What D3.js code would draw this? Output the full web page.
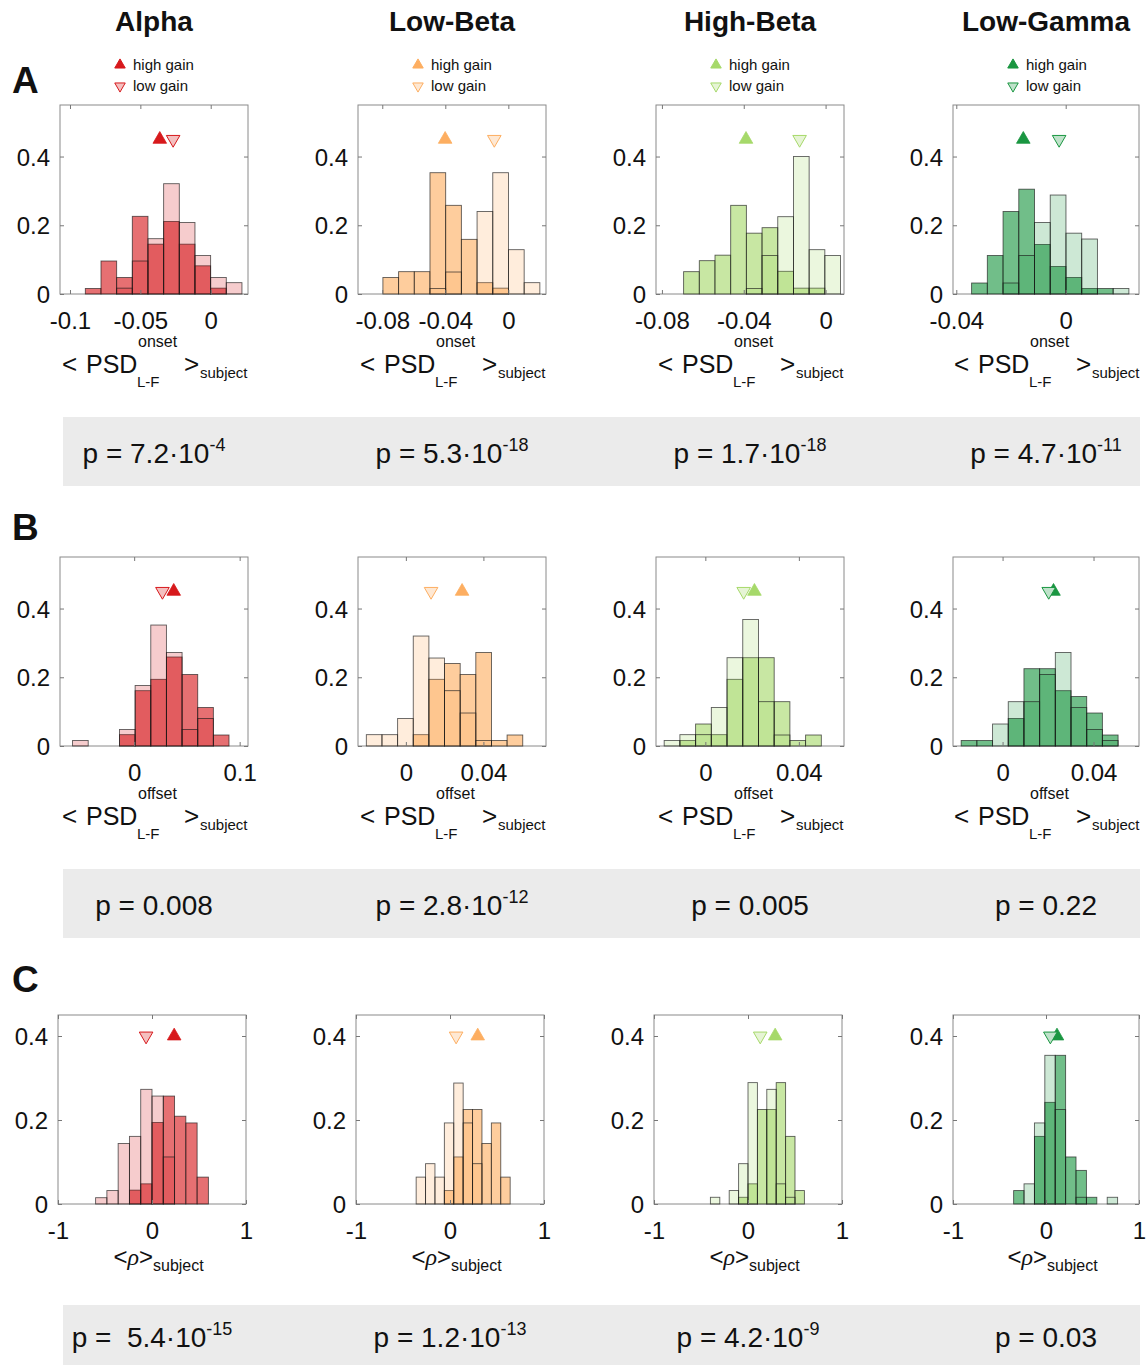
<!DOCTYPE html>
<html>
<head>
<meta charset="utf-8">
<script src="https://cdn.jsdelivr.net/npm/d3@7"></script>
<style>
  body { margin: 0; background: #fff; }
  svg { display: block; }
  text { font-family: "Liberation Sans", Arial, Helvetica, sans-serif; }
</style>
</head>
<body>
<svg id="fig" width="1148" height="1365"></svg>
<script>
// Frequency bands (columns) and their colours
const bands = ["Alpha", "Low-Beta", "High-Beta", "Low-Gamma"];
const bandColors = ["#d7191c", "#fdae61", "#a6d96a", "#1a9641"];
const yTicks = [0, 0.2, 0.4];

// Row A: <PSD_L-F^onset>_subject
const onsetDomain = [[-0.1071, 0.0265], [-0.0954, 0.0239], [-0.0829, 0.009], [-0.0412, 0.0268]];
const onsetTicks = [[-0.1, -0.05, 0], [-0.08, -0.04, 0], [-0.08, -0.04, 0], [-0.04, 0]];
const onsetBinStart = [-0.0891, -0.0796, -0.0694, -0.0344];
const onsetBinWidth = [0.01113, 0.00996, 0.00767, 0.00575];
const onsetHigh = [
  [0.016, 0.096, 0.048, 0.226, 0.145, 0.211, 0.145, 0.082, 0.017, 0],
  [0.048, 0.065, 0.065, 0.353, 0.258, 0.159, 0.033, 0.017, 0, 0],
  [0.065, 0.097, 0.113, 0.258, 0.177, 0.193, 0.066, 0.017, 0.017, 0],
  [0.032, 0.112, 0.240, 0.305, 0.144, 0.080, 0.048, 0.016, 0.016, 0]
];
const onsetLow = [
  [0, 0, 0.017, 0.096, 0.161, 0.321, 0.208, 0.112, 0.048, 0.033],
  [0, 0, 0, 0.016, 0.064, 0, 0.240, 0.353, 0.129, 0.033],
  [0, 0, 0, 0, 0.016, 0.112, 0.225, 0.400, 0.129, 0.112],
  [0, 0, 0.032, 0.112, 0.208, 0.288, 0.177, 0.160, 0, 0.016]
];
const onsetMeanHigh = [-0.0362, -0.0401, -0.0389, -0.0155];
const onsetMeanLow = [-0.0267, -0.0089, -0.0127, -0.0024];
const onsetP = [["7.2·10", "-4"], ["5.3·10", "-18"], ["1.7·10", "-18"], ["4.7·10", "-11"]];

// Row B: <PSD_L-F^offset>_subject
const offsetDomain = [[-0.0703, 0.1079], [-0.0247, 0.0723], [-0.0211, 0.0593], [-0.0218, 0.06]];
const offsetTicks = [[0, 0.1], [0, 0.04], [0, 0.04], [0, 0.04]];
const offsetBinStart = [-0.0584, -0.0204, -0.0176, -0.0182];
const offsetBinWidth = [0.01483, 0.00807, 0.00672, 0.0069];
const offsetHigh = [
  [0, 0, 0, 0.033, 0.161, 0.194, 0.259, 0.208, 0.112, 0.032],
  [0, 0, 0, 0.033, 0.194, 0.240, 0.208, 0.272, 0.016, 0.032],
  [0, 0.016, 0.064, 0.033, 0.194, 0.257, 0.257, 0.129, 0.016, 0.032],
  [0.016, 0.016, 0, 0.080, 0.225, 0.225, 0.161, 0.144, 0.096, 0.032]
];
const offsetLow = [
  [0.016, 0, 0, 0.048, 0.176, 0.352, 0.272, 0.048, 0.080, 0],
  [0.033, 0.033, 0.080, 0.320, 0.256, 0.161, 0.096, 0.016, 0, 0],
  [0.016, 0.033, 0.033, 0.112, 0.257, 0.368, 0.129, 0.032, 0, 0],
  [0, 0, 0.064, 0.129, 0.129, 0.208, 0.272, 0.112, 0.048, 0.016]
];
const offsetMeanHigh = [0.0375, 0.029, 0.021, 0.0224];
const offsetMeanLow = [0.0268, 0.013, 0.0164, 0.0203];
const offsetP = [["0.008", ""], ["2.8·10", "-12"], ["0.005", ""], ["0.22", ""]];

// Row C: <rho>_subject
const rhoDomain = [[-1, 1], [-1, 1], [-1, 1], [-1, 1]];
const rhoTicks = [[-1, 0, 1], [-1, 0, 1], [-1, 0, 1], [-1, 0, 1]];
const rhoBinStart = [-0.6, -0.36, -0.4, -0.348];
const rhoBinWidth = [0.12, 0.1, 0.1, 0.1118];
const rhoHigh = [
  [0, 0, 0, 0.033, 0.048, 0.194, 0.257, 0.209, 0.193, 0.064],
  [0, 0, 0, 0.032, 0.112, 0.225, 0.225, 0.144, 0.193, 0.064],
  [0, 0, 0, 0.016, 0.048, 0.225, 0.225, 0.289, 0.161, 0.032],
  [0.032, 0, 0.161, 0.242, 0.354, 0.112, 0.080, 0.016, 0, 0]
];
const rhoLow = [
  [0.015, 0.032, 0.144, 0.161, 0.273, 0.257, 0.112, 0, 0, 0],
  [0.064, 0.096, 0.064, 0.193, 0.288, 0.193, 0.096, 0, 0, 0],
  [0.016, 0, 0.032, 0.096, 0.289, 0, 0.273, 0.048, 0.016, 0],
  [0, 0.048, 0.193, 0.354, 0.225, 0, 0.016, 0, 0, 0.016]
];
const rhoMeanHigh = [0.236, 0.295, 0.289, 0.118];
const rhoMeanLow = [-0.063, 0.065, 0.130, 0.047];
const rhoP = [[" 5.4·10", "-15"], ["1.2·10", "-13"], ["4.2·10", "-9"], ["0.03", ""]];

const rows = [
  { letter: "A", domain: onsetDomain, ticks: onsetTicks, start: onsetBinStart, width: onsetBinWidth,
    high: onsetHigh, low: onsetLow, mHigh: onsetMeanHigh, mLow: onsetMeanLow, p: onsetP,
    yMax: 0.55, markerY: 0.45, sup: "onset" },
  { letter: "B", domain: offsetDomain, ticks: offsetTicks, start: offsetBinStart, width: offsetBinWidth,
    high: offsetHigh, low: offsetLow, mHigh: offsetMeanHigh, mLow: offsetMeanLow, p: offsetP,
    yMax: 0.55, markerY: 0.45, sup: "offset" },
  { letter: "C", domain: rhoDomain, ticks: rhoTicks, start: rhoBinStart, width: rhoBinWidth,
    high: rhoHigh, low: rhoLow, mHigh: rhoMeanHigh, mLow: rhoMeanLow, p: rhoP,
    yMax: 0.45, markerY: 0.40, sup: null }
];

// Layout
const colLeft = [[60, 358, 656, 953], [60, 358, 656, 953], [58, 356, 654, 953]];
const boxW = [188, 188, 188, 186];
const rowTop = [105, 557, 1015];
const boxH = 189;
const letterY = [93, 540, 992];
const bandTop = [417, 869, 1305];
const bandH = [69, 69, 60];

const svg = d3.select("#fig");
svg.append("rect").attr("width", 1148).attr("height", 1365).attr("fill", "#fff");

// Column titles
bands.forEach((b, c) => {
  svg.append("text")
    .attr("x", colLeft[0][c] + boxW[c] / 2).attr("y", 31)
    .attr("text-anchor", "middle").attr("font-size", 28).attr("font-weight", "bold")
    .attr("fill", "#111").text(b);
});

const triUp = d3.symbol(d3.symbolTriangle, 80)();
const triUpSmall = d3.symbol(d3.symbolTriangle, 48)();
const pale = (col) => d3.interpolateRgb(col, "#fff")(0.72);

rows.forEach((R, r) => {
  // panel letter
  svg.append("text")
    .attr("x", 12).attr("y", letterY[r])
    .attr("font-family", "'Liberation Serif', 'Times New Roman', serif")
    .attr("font-size", 37).attr("font-weight", "bold").attr("fill", "#111")
    .text(R.letter);

  // grey p-value band
  svg.append("rect")
    .attr("x", 63).attr("y", bandTop[r]).attr("width", 1077).attr("height", bandH[r])
    .attr("fill", "#ebebeb");

  bands.forEach((b, c) => {
    const left = colLeft[r][c], top = rowTop[r], w = boxW[c], h = boxH;
    const cx = left + w / 2;
    const col = bandColors[c];
    const x = d3.scaleLinear().domain(R.domain[c]).range([left, left + w]);
    const y = d3.scaleLinear().domain([0, R.yMax]).range([top + h, top]);
    const g = svg.append("g");

    // box
    g.append("rect")
      .attr("x", left).attr("y", top).attr("width", w).attr("height", h)
      .attr("fill", "#fff").attr("stroke", "#8a8a8a").attr("stroke-width", 1);

    // histograms: high gain then low gain, translucent so overlaps darken
    const bin0 = (i) => R.start[c] + i * R.width[c];
    [[R.high[c], 0.62], [R.low[c], 0.22]].forEach(([vals, op]) => {
      g.append("g").selectAll("rect").data(vals).join("rect")
        .attr("x", (d, i) => x(bin0(i)))
        .attr("width", (d, i) => x(bin0(i + 1)) - x(bin0(i)))
        .attr("y", d => y(d))
        .attr("height", d => y(0) - y(d))
        .attr("fill", col).attr("fill-opacity", op)
        .attr("stroke", "#1a1a1a").attr("stroke-opacity", 0.7).attr("stroke-width", 0.9);
    });

    // axes with inward ticks on all four sides
    const styleAxis = (sel) => {
      sel.attr("font-family", null).attr("font-size", null);
      sel.select(".domain").remove();
      sel.selectAll(".tick line").attr("stroke", "#777");
    };
    const axB = g.append("g").attr("transform", `translate(0,${top + h})`)
      .call(d3.axisBottom(x).tickValues(R.ticks[c]).tickSize(-4).tickFormat(d => String(d)));
    styleAxis(axB);
    axB.selectAll(".tick text").attr("y", 35).attr("dy", 0)
      .attr("font-size", 24).attr("fill", "#111");

    const axT = g.append("g").attr("transform", `translate(0,${top})`)
      .call(d3.axisTop(x).tickValues(R.ticks[c]).tickSize(-4).tickFormat(""));
    styleAxis(axT);

    const axL = g.append("g").attr("transform", `translate(${left},0)`)
      .call(d3.axisLeft(y).tickValues(yTicks).tickSize(-4).tickFormat(d => String(d)));
    styleAxis(axL);
    axL.selectAll(".tick text").attr("x", -10).attr("dy", "0.36em")
      .attr("font-size", 24).attr("fill", "#111");

    const axR = g.append("g").attr("transform", `translate(${left + w},0)`)
      .call(d3.axisRight(y).tickValues(yTicks).tickSize(-4).tickFormat(""));
    styleAxis(axR);

    // mean markers
    g.append("path").attr("d", triUp)
      .attr("transform", `translate(${x(R.mHigh[c])},${y(R.markerY)})`)
      .attr("fill", col).attr("stroke", col).attr("stroke-width", 0.8);
    g.append("path").attr("d", triUp)
      .attr("transform", `translate(${x(R.mLow[c])},${y(R.markerY)}) rotate(180)`)
      .attr("fill", pale(col)).attr("stroke", col).attr("stroke-width", 1);

    // x-axis label
    const base = top + h;
    if (R.sup) {
      const t = (tx, ty, fs, s) => g.append("text").attr("x", tx).attr("y", ty)
        .attr("font-size", fs).attr("fill", "#111").text(s);
      t(cx - 92, base + 79, 26, "<");
      t(cx - 68, base + 79, 25, "PSD");
      t(cx - 16, base + 53, 16, R.sup);
      t(cx - 17, base + 93, 15, "L-F");
      t(cx + 30, base + 79, 26, ">");
      t(cx + 46, base + 84, 15, "subject");
    } else {
      const lab = g.append("text").attr("x", cx + 1).attr("y", base + 61)
        .attr("text-anchor", "end").attr("font-size", 24).attr("fill", "#111");
      lab.append("tspan").text("<");
      lab.append("tspan").attr("font-style", "italic")
        .attr("font-family", "'Liberation Serif', 'Times New Roman', serif").text("ρ");
      lab.append("tspan").text(">");
      g.append("text").attr("x", cx + 1).attr("y", base + 67)
        .attr("font-size", 16).attr("fill", "#111").text("subject");
    }

    // legend (top row only)
    if (r === 0) {
      const lx = left + 60;
      g.append("path").attr("d", triUpSmall)
        .attr("transform", `translate(${lx},65)`).attr("fill", col).attr("stroke", col);
      g.append("path").attr("d", triUpSmall)
        .attr("transform", `translate(${lx},86) rotate(180)`)
        .attr("fill", pale(col)).attr("stroke", col);
      g.append("text").attr("x", lx + 13).attr("y", 70).attr("font-size", 15)
        .attr("fill", "#111").text("high gain");
      g.append("text").attr("x", lx + 13).attr("y", 91).attr("font-size", 15)
        .attr("fill", "#111").text("low gain");
    }

    // p-value
    const [mant, ex] = R.p[c];
    const pt = svg.append("text")
      .attr("x", cx).attr("y", bandTop[r] + (r === 2 ? 42 : 46))
      .attr("text-anchor", "middle").attr("font-size", 28).attr("fill", "#111")
      .style("white-space", "pre");
    pt.append("tspan").text("p = " + mant);
    if (ex) pt.append("tspan").attr("dy", -12).attr("font-size", 18).text(ex);
  });
});
</script>
</body>
</html>
